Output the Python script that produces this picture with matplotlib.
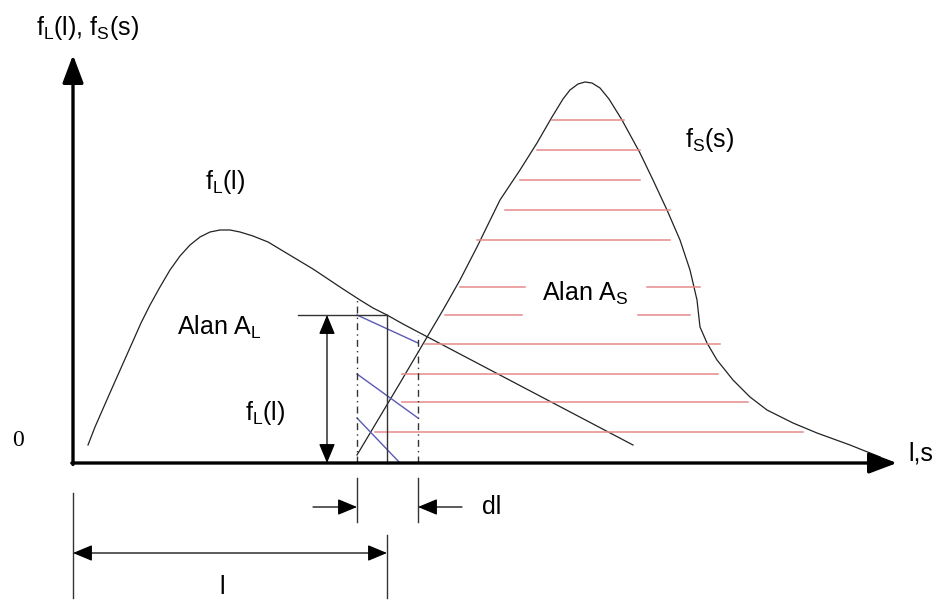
import matplotlib.pyplot as plt
import numpy as np

plt.rcParams['font.family'] = ['Liberation Sans', 'DejaVu Sans']
plt.rcParams['mathtext.fontset'] = 'custom'
plt.rcParams['mathtext.rm'] = 'Liberation Sans'
plt.rcParams['mathtext.it'] = 'Liberation Sans'

# load curve f_L(l)
l_x = [15, 22, 29, 36, 44, 52, 60, 68, 77, 87, 97, 107, 117, 127, 137, 147, 157, 167, 180,
       195, 210, 225, 240, 255, 270, 287, 300, 314, 330, 347, 560]
l_y = [18, 36, 52, 68, 86, 104, 122, 140, 158, 176, 193, 207, 218, 226, 231, 233, 233, 231, 227,
       221, 212, 203, 194, 184, 174, 163, 155, 148, 139, 130, 18]

# strength curve f_S(s)
s_x = [284, 327, 370, 387, 404, 427, 447, 464, 479, 490, 497, 505, 512, 519, 527, 536, 549, 567, 580,
       594, 607, 617, 624, 627, 634, 644, 660, 677, 694, 720, 744, 777, 807]
s_y = [8, 80, 153, 183, 216, 263, 293, 320, 346, 364, 373, 379, 381, 380, 375, 364, 343, 310, 283,
       253, 223, 193, 163, 136, 120, 103, 83, 66, 53, 40, 30, 18, 6]

# hatch lines under f_S: height, start, end
hatch_y = [343, 313, 283, 253, 223, 176, 176, 148, 148, 119, 89, 61, 31]
hatch_x0 = [479, 464, 447, 432, 404, 387, 574, 372, 565, 352, 329, 329, 302]
hatch_x1 = [551, 567, 567, 597, 597, 452, 627, 449, 617, 647, 645, 675, 730]

# strip hatch (blue)
strip_x0 = [284, 284, 284]
strip_y0 = [148, 89, 45]
strip_x1 = [345, 345, 327]
strip_y1 = [120, 45, 0]

l_pos = 314      # position l
dl_left = 284
dl_right = 345
fl_height = 148
arrow_x = 254

fig = plt.figure(figsize=(9.41, 6.02), dpi=100)
ax = fig.add_axes([0, 0, 1, 1])
ax.set_xlim(-73, 868)
ax.set_ylim(-139, 463)
ax.axis('off')

# axes with arrows
big = dict(arrowstyle='-|>,head_length=0.85,head_width=0.32', lw=2.4, color='black',
           mutation_scale=20, shrinkA=0, shrinkB=0)
ax.annotate('', xy=(0, 408), xytext=(0, -1.5), arrowprops=big)
ax.annotate('', xy=(824, 0), xytext=(-1.2, 0), arrowprops=big)

# curves
ax.plot(l_x, l_y, color='#222222', lw=0.9)
ax.plot(s_x, s_y, color='#222222', lw=0.9)

for y, x0, x1 in zip(hatch_y, hatch_x0, hatch_x1):
    ax.plot([x0, x1], [y, y], color='#e58a8a', lw=1.1)

for x0, y0, x1, y1 in zip(strip_x0, strip_y0, strip_x1, strip_y1):
    ax.plot([x0, x1], [y0, y1], color='#5a5ab4', lw=1.0)

# strip boundaries
ax.plot([dl_left, dl_left], [0, 166], color='#333333', lw=1.0, ls=(0, (5, 3, 1, 3)))
ax.plot([dl_right, dl_right], [0, 128], color='#333333', lw=1.0, ls=(0, (5, 3, 1, 3)))
ax.plot([l_pos, l_pos], [0, fl_height], color='#333333', lw=1.0)
ax.plot([225, l_pos], [fl_height, fl_height], color='#333333', lw=1.0)

small = dict(arrowstyle='<|-|>,head_length=0.6,head_width=0.25', lw=0.9, color='black',
             mutation_scale=20, shrinkA=0, shrinkB=0)
one = dict(arrowstyle='-|>,head_length=0.6,head_width=0.25', lw=0.9, color='black',
           mutation_scale=20, shrinkA=0, shrinkB=0)
ax.annotate('', xy=(arrow_x, 0), xytext=(arrow_x, fl_height), arrowprops=small)

# dl dimension
ax.plot([dl_left, dl_left], [-15, -59], color='#333333', lw=1.0)
ax.plot([dl_right, dl_right], [-15, -59], color='#333333', lw=1.0)
ax.annotate('', xy=(dl_left, -44), xytext=(240, -44), arrowprops=one)
ax.annotate('', xy=(dl_right, -44), xytext=(389, -44), arrowprops=one)

# l dimension
ax.plot([0, 0], [-30, -135], color='#333333', lw=1.0)
ax.plot([l_pos, l_pos], [-72, -135], color='#333333', lw=1.0)
ax.annotate('', xy=(l_pos, -90), xytext=(0, -90), arrowprops=small)

fs = 18
ax.text(14, 435, r'$\mathregular{f_L(l)}$, $\mathregular{f_S(s)}$', fontsize=fs, ha='center', va='center')
ax.text(835, 10, 'l,s', fontsize=fs, ha='left', va='center')
ax.text(-55, 23, '0', fontsize=17, family='Liberation Serif', ha='center', va='center')
ax.text(152, 281, r'$\mathregular{f_L(l)}$', fontsize=fs, ha='center', va='center')
ax.text(637, 323, r'$\mathregular{f_S(s)}$', fontsize=fs, ha='center', va='center')
ax.text(104, 136, r'$\mathregular{Alan\ A_L}$', fontsize=fs, ha='left', va='center')
ax.text(469, 170, r'$\mathregular{Alan\ A_S}$', fontsize=fs, ha='left', va='center')
ax.text(172, 50, r'$\mathregular{f_L(l)}$', fontsize=fs, ha='left', va='center')
ax.text(409, -44, 'dl', fontsize=fs, ha='left', va='center')
ax.text(149, -112, 'l', fontsize=fs, ha='center', va='top')

plt.savefig('out.png', dpi=100)
